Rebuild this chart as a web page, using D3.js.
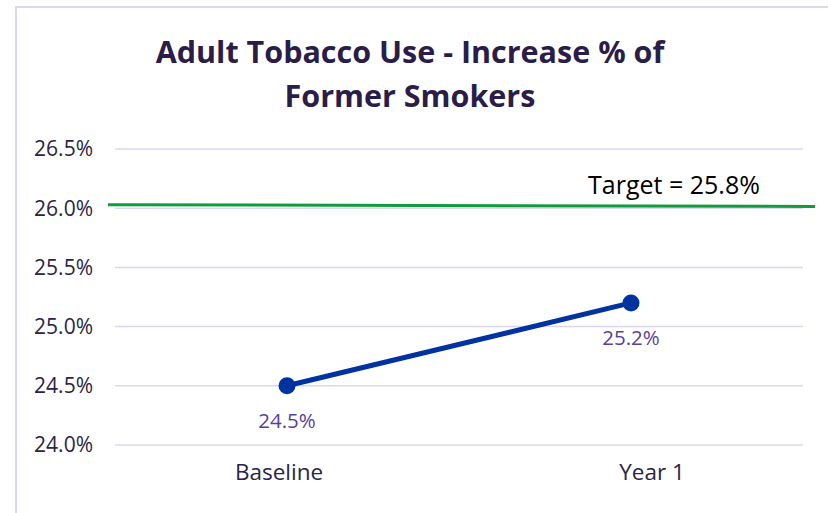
<!DOCTYPE html>
<html>
<head>
<meta charset="utf-8">
<script src="https://cdn.jsdelivr.net/npm/d3@7"></script>
<style>
  body { margin: 0; background: #fff; }
  text { font-family: "Open Sans", sans-serif; }
</style>
</head>
<body>
<div id="canvas"></div>
<script>
const categories = ["Baseline", "Year 1"];
const values = [24.5, 25.2];
const yTicks = [24.0, 24.5, 25.0, 25.5, 26.0, 26.5];
const targetValue = 25.8;
// the green line sits a little above 26.0 and tilts down slightly to the right
const targetLine = [26.03, 26.015];
const titleLines = ["Adult Tobacco Use - Increase % of", "Former Smokers"];

const width = 828;
const height = 513;
const margin = { top: 149, left: 115, bottom: 68, right: 25 };

const svg = d3.select("#canvas").append("svg")
  .attr("width", width)
  .attr("height", height);

// chart frame
svg.append("rect")
  .attr("x", 16).attr("y", 7)
  .attr("width", 830).attr("height", 520)
  .attr("fill", "none")
  .attr("stroke", "#dcd7ef")
  .attr("stroke-width", 2);

const x = d3.scalePoint()
  .domain(categories)
  .range([margin.left, width - margin.right])
  .padding(0.5);

// category labels sit a little off the points in the original
const xLab = d3.scalePoint()
  .domain(categories)
  .range([92.5, 838.5])
  .padding(0.5);

const y = d3.scaleLinear()
  .domain([24, 26.5])
  .range([height - margin.bottom, margin.top]);

// gridlines
svg.append("g")
  .selectAll("line")
  .data(yTicks)
  .join("line")
  .attr("x1", margin.left)
  .attr("x2", width - margin.right)
  .attr("y1", d => y(d))
  .attr("y2", d => y(d))
  .attr("stroke", "#dcd7ef")
  .attr("stroke-width", 1.5);

// y axis labels
svg.append("g")
  .selectAll("text")
  .data(yTicks)
  .join("text")
  .attr("x", 93)
  .attr("y", d => y(d))
  .attr("dy", "0.35em")
  .attr("text-anchor", "end")
  .attr("fill", "#2b2545")
  .style("font-size", "21px")
  .text(d => d.toFixed(1) + "%");

// x axis labels
svg.append("g")
  .selectAll("text")
  .data(categories)
  .join("text")
  .attr("x", d => xLab(d))
  .attr("y", 472)
  .attr("dy", "0.35em")
  .attr("text-anchor", "middle")
  .attr("fill", "#2b2545")
  .style("font-size", "22.5px")
  .text(d => d);

// target line
svg.append("line")
  .attr("x1", 108).attr("x2", 815)
  .attr("y1", y(targetLine[0]))
  .attr("y2", y(targetLine[1]))
  .attr("stroke", "#119a3e")
  .attr("stroke-width", 3);

svg.append("text")
  .attr("x", 674)
  .attr("y", y(targetLine[1]) - 12)
  .attr("text-anchor", "middle")
  .attr("fill", "#000")
  .style("font-size", "25px")
  .text("Target = " + targetValue.toFixed(1) + "%");

// series
const pts = categories.map((c, i) => ({ c: c, v: values[i] }));

svg.append("path")
  .datum(pts)
  .attr("fill", "none")
  .attr("stroke", "#0033a0")
  .attr("stroke-width", 5)
  .attr("d", d3.line().x(d => x(d.c)).y(d => y(d.v)));

svg.append("g")
  .selectAll("circle")
  .data(pts)
  .join("circle")
  .attr("cx", d => x(d.c))
  .attr("cy", d => y(d.v))
  .attr("r", 8.5)
  .attr("fill", "#0033a0");

svg.append("g")
  .selectAll("text")
  .data(pts)
  .join("text")
  .attr("x", d => x(d.c))
  .attr("y", d => y(d.v) + 35)
  .attr("dy", "0.35em")
  .attr("text-anchor", "middle")
  .attr("fill", "#5a3f99")
  .style("font-size", "20.5px")
  .text(d => d.v.toFixed(1) + "%");

// title
svg.append("g")
  .selectAll("text")
  .data(titleLines)
  .join("text")
  .attr("x", 410)
  .attr("y", (d, i) => 52 + i * 44)
  .attr("dy", "0.35em")
  .attr("text-anchor", "middle")
  .attr("fill", "#2a1d48")
  .style("font-size", "30.5px")
  .style("font-weight", "bold")
  .text(d => d);
</script>
</body>
</html>
